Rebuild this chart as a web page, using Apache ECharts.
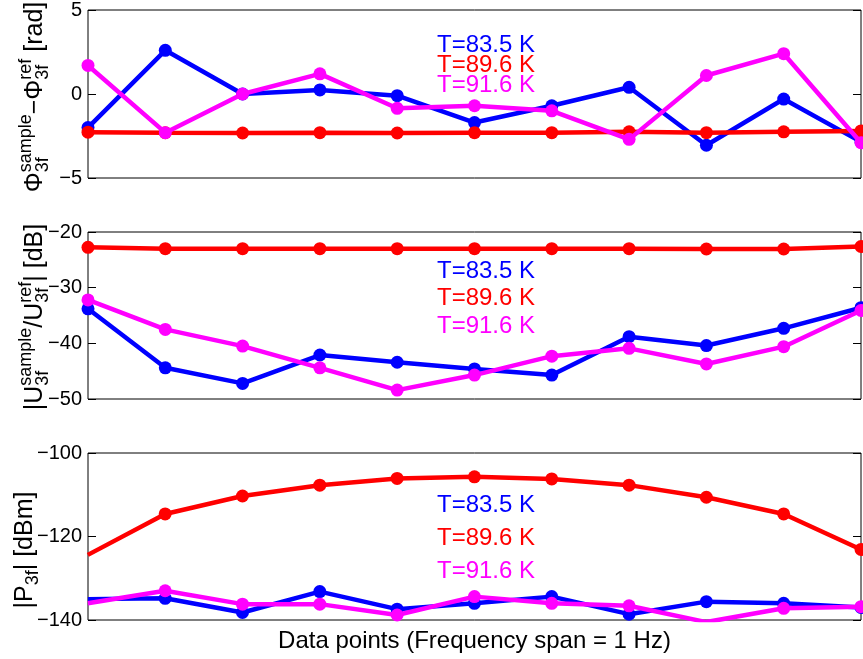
<!DOCTYPE html>
<html>
<head>
<meta charset="utf-8">
<script src="https://cdn.jsdelivr.net/npm/echarts@6/dist/echarts.min.js"></script>
<style>html,body{margin:0;padding:0;background:#fff}#c{width:863px;height:659px}</style>
</head>
<body>
<div id="c"></div>
<script>
// ---------- data ----------
const xPoints = [1, 2, 3, 4, 5, 6, 7, 8, 9, 10, 11];
const tempLabels = ['T=83.5 K', 'T=89.6 K', 'T=91.6 K'];
// phase difference [rad]
const phase835 = [-2.0, 2.6, 0.0, 0.24, -0.1, -1.7, -0.7, 0.4, -3.05, -0.3, -2.85];
const phase896 = [-2.27, -2.3, -2.32, -2.3, -2.32, -2.3, -2.3, -2.25, -2.3, -2.25, -2.2];
const phase916 = [1.7, -2.3, 0.0, 1.2, -0.85, -0.7, -1.0, -2.7, 1.1, 2.4, -2.9];
// |U ratio| [dB]
const mag835 = [-33.8, -44.4, -47.2, -42.1, -43.4, -44.6, -45.7, -38.8, -40.4, -37.3, -33.6];
const mag896 = [-22.75, -23.0, -23.0, -23.0, -23.0, -23.0, -23.0, -23.0, -23.05, -23.05, -22.6];
const mag916 = [-32.2, -37.5, -40.5, -44.4, -48.4, -45.7, -42.3, -40.9, -43.7, -40.6, -34.1];
// |P3f| [dBm]
const pow835 = [-135.0, -134.8, -138.2, -133.2, -137.4, -136.0, -134.4, -138.6, -135.6, -136.0, -137.0];
const pow896 = [-124.4, -114.6, -110.3, -107.7, -106.1, -105.7, -106.2, -107.7, -110.6, -114.6, -123.1];
const pow916 = [-136.0, -133.0, -136.2, -136.2, -138.8, -134.4, -136.0, -136.6, -140.5, -137.2, -136.8];
// axis ticks
const phaseTicks = [-5, 0, 5];
const magTicks = [-50, -40, -30, -20];
const powTicks = [-140, -120, -100];
const xTitle = 'Data points (Frequency span = 1 Hz)';

// ---------- style ----------
const FONT = '"Liberation Sans", Arial, Helvetica, sans-serif';
const COLORS = ['#0000ff', '#ff0000', '#ff00ff'];
const MAIN = 25, SMALL = 18;

const chart = echarts.init(document.getElementById('c'), null, {renderer: 'canvas'});

const cv = document.createElement('canvas').getContext('2d');
function measure(t, size) { cv.font = size + 'px ' + FONT; return cv.measureText(t).width; }

function yTitle(segs, bx, cy) {
  const children = [];
  let x = 0;
  segs.forEach(s => {
    if (typeof s === 'string') {
      children.push({type: 'text', x: x, y: 0, style: {text: s, font: MAIN + 'px ' + FONT, fill: '#000', verticalAlign: 'middle'}});
      x += measure(s, MAIN);
    } else {
      let w = 0;
      if (s.sup) { children.push({type: 'text', x: x, y: -9, style: {text: s.sup, font: SMALL + 'px ' + FONT, fill: '#000', verticalAlign: 'middle'}}); w = Math.max(w, measure(s.sup, SMALL)); }
      if (s.sub) { children.push({type: 'text', x: x, y: 8, style: {text: s.sub, font: SMALL + 'px ' + FONT, fill: '#000', verticalAlign: 'middle'}}); w = Math.max(w, measure(s.sub, SMALL)); }
      x += w;
    }
  });
  children.forEach(c => c.x -= x / 2);
  return {type: 'group', x: bx, y: cy, rotation: Math.PI / 2, children: children, silent: true};
}

function annot(x, ys) {
  return tempLabels.map((t, i) => ({
    type: 'text', x: x, y: ys[i], silent: true,
    style: {text: t, font: '24px ' + FONT, fill: COLORS[i], verticalAlign: 'middle'}
  }));
}

const gridPos = [
  {top: 10, height: 168},
  {top: 232, height: 167},
  {top: 453, height: 167}
];
const yRanges = [
  {ticks: phaseTicks, interval: 5},
  {ticks: magTicks, interval: 10},
  {ticks: powTicks, interval: 20}
];
const seriesSets = [
  [phase835, phase896, phase916],
  [mag835, mag896, mag916],
  [pow835, pow896, pow916]
];

const grids = gridPos.map(g => ({
  left: 88, width: 773, top: g.top, height: g.height,
  show: true, borderColor: '#000', borderWidth: 1, backgroundColor: 'transparent',
  containLabel: false, outerBoundsMode: 'none'
}));

const xAxes = gridPos.map((g, i) => ({
  type: 'value', gridIndex: i, min: i === 2 ? 1.002 : xPoints[0], max: xPoints[xPoints.length - 1],
  axisLine: {show: false}, axisTick: {show: false}, axisLabel: {show: false}, splitLine: {show: false}
}));

const yAxes = [];
yRanges.forEach((r, i) => {
  const base = {
    type: 'value', gridIndex: i, min: r.ticks[0], max: r.ticks[r.ticks.length - 1], interval: r.interval,
    axisLine: {show: false}, splitLine: {show: false},
    axisTick: {show: true, inside: true, length: 8, lineStyle: {color: '#000', width: 1}}
  };
  yAxes.push(Object.assign({}, base, {
    position: 'left',
    axisLabel: {show: true, inside: false, margin: 6, fontSize: 20, fontFamily: FONT, color: '#000',
      formatter: v => String(v).replace('-', '\u2212')}
  }));
  yAxes.push(Object.assign({}, base, {
    position: 'right', axisLabel: {show: false}
  }));
});

const series = [];
seriesSets.forEach((set, gi) => {
  set.forEach((vals, si) => {
    series.push({
      type: 'line', name: tempLabels[si], xAxisIndex: gi, yAxisIndex: gi * 2,
      data: xPoints.map((x, k) => [x, vals[k]]),
      symbol: 'circle', symbolSize: 13, showSymbol: true, clip: true,
      lineStyle: {color: COLORS[si], width: 4.5},
      itemStyle: {color: COLORS[si], borderWidth: 0},
      emphasis: {disabled: true}, animation: false, z: 2 + si
    });
  });
});

const graphic = [].concat(
  annot(437, [45, 65, 85]),
  annot(437, [271, 298, 326]),
  annot(437, [505, 538, 571]),
  [
    yTitle(['\u03A6', {sup: 'sample', sub: '3f'}, '\u2212\u03A6', {sup: 'ref', sub: '3f'}, ' [rad]'], 35, 97),
    yTitle(['|U', {sup: 'sample', sub: '3f'}, '/U', {sup: 'ref', sub: '3f'}, '| [dB]'], 35, 317),
    yTitle(['|P', {sub: '3f'}, '| [dBm]'], 25, 550),
    {type: 'text', x: 474.5, y: 641, silent: true,
      style: {text: xTitle, font: '24px ' + FONT, fill: '#000', align: 'center', verticalAlign: 'middle'}}
  ]
);

chart.setOption({
  animation: false,
  backgroundColor: '#fff',
  textStyle: {fontFamily: FONT},
  grid: grids,
  xAxis: xAxes,
  yAxis: yAxes,
  series: series,
  graphic: graphic
});
</script>
</body>
</html>
